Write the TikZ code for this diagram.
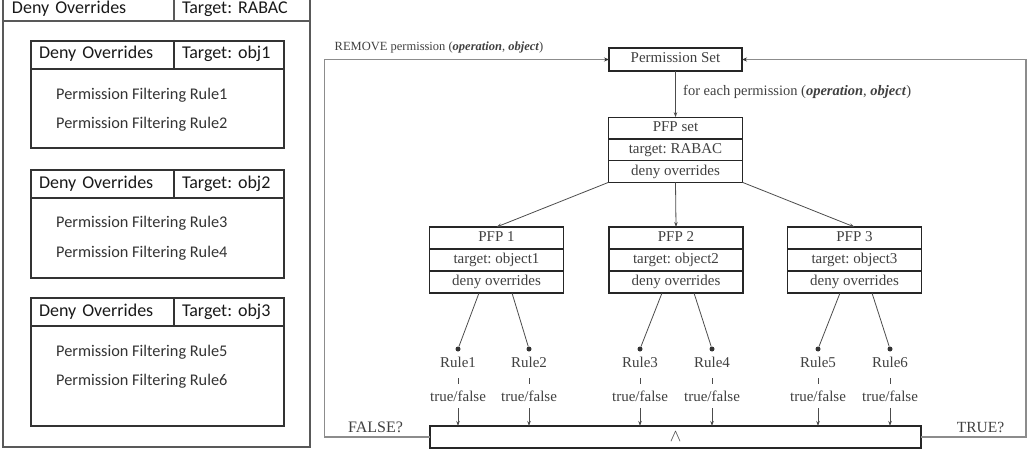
\documentclass[tikz,border=0pt]{standalone}
\usepackage{fontspec}
\setmainfont{Liberation Serif}
\newfontfamily\calib{Carlito}
\usetikzlibrary{arrows.meta,calc}
\begin{document}
\frenchspacing
\begin{tikzpicture}[x=1pt,y=-1pt,
  cell/.style={draw=black!80, line width=1.1pt, outer sep=0pt, inner xsep=8pt, inner ysep=0pt,
    minimum height=28pt, anchor=north west, align=left, text height=12pt, text depth=4pt,
    font=\calib\fontsize{18}{18}\selectfont, text=black!90},
  bodybox/.style={draw=black!80, line width=1.1pt, outer sep=0pt, inner sep=0pt, anchor=north west},
  ruletxt/.style={anchor=west, inner sep=0pt, font=\calib\fontsize{16.3}{16.3}\selectfont, text=black!80},
  box/.style={draw=black!85, line width=1.1pt, outer sep=0pt, inner sep=0pt, minimum width=134pt,
    minimum height=22pt, text height=10pt, text depth=3pt, font=\fontsize{15}{15}\selectfont, text=black!75},
  conn/.style={draw=black!70, line width=0.8pt},
  arr/.style={conn, -{Stealth[length=5pt,width=3.5pt]}},
  loopline/.style={draw=black!45, line width=1.4pt, -{Stealth[length=5pt,width=4pt,black!80]}},
  dot/.style={circle, fill=black!80, inner sep=0pt, minimum size=5pt},
  lbl/.style={inner sep=0pt, text height=10pt, text depth=3pt, font=\fontsize{15}{15}\selectfont, text=black!75},
  note/.style={inner sep=0pt, text=black!75}]
\useasboundingbox (0,0) rectangle (1035,452);

% ---------- left panel ----------
\node[bodybox, draw=black!65, line width=1.4pt, minimum width=307pt, minimum height=426pt] (outer) at (3,21) {};
\node[cell, draw=black!65, line width=1.4pt, inner xsep=9pt, minimum height=23pt, text width=153pt] (oh1) at (3,-2) {Deny Overrides};
\node[cell, draw=black!65, line width=1.4pt, minimum height=23pt, text width=120pt] (oh2) at (174,-2) {Target: RABAC};

\node[bodybox, minimum width=253pt, minimum height=79pt] (b1) at (31,69) {};
\node[cell, text width=127pt] (h1a) at (31,41) {Deny Overrides};
\node[cell, text width=94pt] (h1b) at (174,41) {Target: obj1};
\node[ruletxt] (pr1) at (56,95) {Permission Filtering Rule1};
\node[ruletxt] (pr2) at (56,124) {Permission Filtering Rule2};

\node[bodybox, minimum width=253pt, minimum height=80pt] (b2) at (31,198) {};
\node[cell, text width=127pt] (h2a) at (31,170) {Deny Overrides};
\node[cell, text width=94pt] (h2b) at (174,170) {Target: obj2};
\node[ruletxt] (pr3) at (56,223) {Permission Filtering Rule3};
\node[ruletxt] (pr4) at (56,253) {Permission Filtering Rule4};

\node[bodybox, minimum width=253pt, minimum height=100pt] (b3) at (31,326) {};
\node[cell, text width=127pt] (h3a) at (31,298) {Deny Overrides};
\node[cell, text width=94pt] (h3b) at (174,298) {Target: obj3};
\node[ruletxt] (pr5) at (56,352) {Permission Filtering Rule5};
\node[ruletxt] (pr6) at (56,381) {Permission Filtering Rule6};

% ---------- right panel ----------
\node[box, minimum width=133pt, minimum height=23pt] (ps) at (675.5,59.5) {Permission Set};

\node[box, minimum height=21.7pt] (pfs1) at (675.5,128) {PFP set};
\node[box, minimum height=21.7pt] (pfs2) at (675.5,150) {target: RABAC};
\node[box, minimum height=21.7pt] (pfs3) at (675.5,171.5) {deny overrides};

\node[box] (p1a) at (496.5,238) {PFP 1};
\node[box] (p1b) at (496.5,260) {target: object1};
\node[box] (p1c) at (496.5,282) {deny overrides};
\node[box] (p2a) at (676,238) {PFP 2};
\node[box] (p2b) at (676,260) {target: object2};
\node[box] (p2c) at (676,282) {deny overrides};
\node[box] (p3a) at (854.5,238) {PFP 3};
\node[box] (p3b) at (854.5,260) {target: object3};
\node[box] (p3c) at (854.5,282) {deny overrides};

\node[box, minimum width=491pt, text height=9pt, text depth=1pt] (and) at (675.5,437) {\fontsize{19}{19}\selectfont$\wedge$};

\node[note, font=\fontsize{12.5}{12.5}\selectfont] (rm) at (439,47) {REMOVE permission (\textbf{\textit{operation}}, \textbf{\textit{object}})};
\node[note, font=\fontsize{14.5}{14.5}\selectfont, anchor=west] (fe) at (683,92) {for each permission (\textbf{\textit{operation}}, \textbf{\textit{object}})};
\node[note, font=\fontsize{16}{16}\selectfont] (fl) at (375.5,427) {FALSE?};
\node[note, font=\fontsize{15.5}{15.5}\selectfont] (tr) at (980.5,427) {TRUE?};

\draw[arr] (ps.south) -- (pfs1.north);
\draw[arr] (pfs3.south west) -- (p1a.north);
\draw[arr] (pfs3.south) -- (p2a.north);
\draw[arr] (pfs3.south east) -- (p3a.north);

\foreach \i/\x/\p/\dx in {1/458/p1c/-17.5, 2/529/p1c/15.5, 3/640/p2c/-14, 4/712/p2c/18, 5/818/p3c/-14.5, 6/890/p3c/17.5} {
  \node[dot] (d\i) at (\x,349) {};
  \draw[conn] ($(\p.south)+(\dx,0)$) -- (d\i);
  \node[lbl] (rl\i) at (\x,364) {Rule\i};
  \node[lbl] (tf\i) at (\x,398) {true/false};
  \draw[conn] ($(rl\i.south)+(0,7.5)$) -- ($(tf\i.north)+(0,-7)$);
  \draw[arr] ($(tf\i.south)+(0,3.5)$) -- (tf\i |- and.north);
}

\coordinate (cl) at (324.5,59.5);
\coordinate (cr) at (1026,59.5);
\draw[loopline] (and.west) -| (cl) -- (ps.west);
\draw[loopline] (and.east) -| (cr) -- (ps.east);
\end{tikzpicture}
\end{document}
